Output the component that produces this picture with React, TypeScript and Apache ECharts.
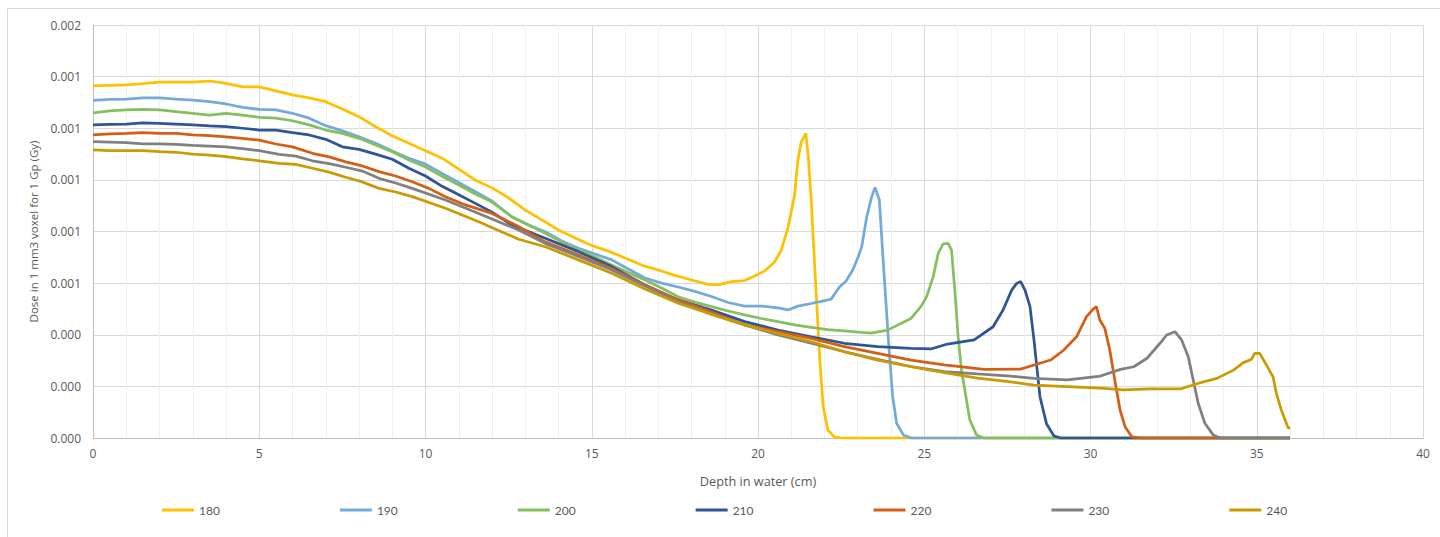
import React, { useEffect, useRef } from "react";
import * as echarts from "echarts";

// Depth (cm) and dose (Gy) samples per beam energy
const d180 = [0,0.5,1,1.5,2,2.5,3,3.5,4,4.5,5,5.5,6,6.5,7,7.5,8,8.5,9,9.5,10,10.5,11,11.5,12,12.5,13,13.5,14,14.5,15,15.5,16,16.5,17,17.5,18,18.5,18.8,19.2,19.6,19.9,20.2,20.5,20.7,20.9,21.1,21.2,21.3,21.44,21.52,21.6,21.76,21.86,21.96,22.1,22.3,22.5,36];
const v180 = [0.001364,0.001366,0.001368,0.001373,0.001379,0.001379,0.001379,0.001383,0.001374,0.00136,0.00136,0.001345,0.001329,0.001318,0.001303,0.001275,0.001245,0.001206,0.001171,0.001142,0.001113,0.001084,0.001042,0.000999,0.000969,0.00093,0.000883,0.000845,0.000806,0.000775,0.000746,0.000724,0.000697,0.00067,0.000651,0.00063,0.000612,0.000595,0.000593,0.000606,0.00061,0.000628,0.000647,0.000682,0.000728,0.000814,0.000941,0.001077,0.001147,0.00118,0.001077,0.000922,0.000535,0.000302,0.000121,0.000031,0.000004,0,0];

const d190 = [0,0.5,1,1.5,2,2.5,3,3.5,4,4.5,5,5.5,6,6.5,7,7.5,8,8.5,9,9.5,10,10.5,11,11.5,12,12.6,13.1,13.6,14.1,14.6,15.1,15.6,16.1,16.6,17.1,17.6,18.1,18.6,19.1,19.6,20.1,20.6,20.9,21.2,21.6,21.9,22.2,22.45,22.65,22.85,23.0,23.12,23.27,23.42,23.52,23.65,23.75,23.85,23.95,24.05,24.17,24.37,24.6,36];
const v190 = [0.001308,0.001312,0.001313,0.001318,0.001318,0.001313,0.001309,0.001303,0.001294,0.001281,0.001273,0.001271,0.001258,0.001239,0.00121,0.00119,0.001167,0.001142,0.001112,0.001084,0.001061,0.001025,0.00099,0.000954,0.000918,0.000856,0.000825,0.000799,0.000763,0.000735,0.000713,0.00069,0.000655,0.00062,0.0006,0.000585,0.000568,0.000548,0.000525,0.000511,0.000511,0.000504,0.000496,0.000511,0.000521,0.000529,0.000538,0.000585,0.000608,0.000651,0.000697,0.000741,0.000857,0.000935,0.000971,0.000922,0.000716,0.000522,0.000328,0.00016,0.000057,0.000012,0,0];

const d200 = [0,0.5,1,1.5,2,2.5,3,3.5,4,4.5,5,5.5,6,6.5,7,7.5,8,8.5,9,9.5,10,10.5,11,11.5,12,12.6,13.1,13.6,14.1,14.6,15.1,15.6,16.1,16.6,17.1,17.6,18.1,18.6,19.1,19.6,20.1,20.6,21.1,21.6,22.1,22.6,23.1,23.4,23.9,24.3,24.6,24.9,25.07,25.27,25.42,25.57,25.72,25.82,25.92,26.02,26.12,26.22,26.37,26.57,26.8,36];
const v200 = [0.00126,0.001267,0.001271,0.001273,0.001271,0.001264,0.001258,0.001251,0.001258,0.001251,0.001242,0.001239,0.001229,0.001213,0.001193,0.00118,0.001161,0.001135,0.001109,0.001077,0.00105,0.001014,0.00098,0.000945,0.000914,0.000857,0.000825,0.000793,0.000759,0.000728,0.000701,0.00067,0.000641,0.000612,0.000581,0.000547,0.000527,0.000509,0.000492,0.000477,0.000463,0.000451,0.000438,0.000429,0.00042,0.000415,0.000409,0.000406,0.000418,0.000444,0.000463,0.000509,0.000547,0.000625,0.000716,0.000752,0.000754,0.000728,0.000573,0.000392,0.000263,0.000186,0.00007,0.000012,0,0];

const d210 = [0,0.5,1,1.5,2,2.5,3,3.5,4,4.5,5,5.5,6,6.5,7,7.5,8,8.5,9,9.5,10,10.5,11,11.5,12,12.6,13.6,14.6,15.6,16.6,17.6,18.6,19.6,20.6,21.6,22.6,23.6,24.6,25.2,25.7,26.5,27.07,27.37,27.63,27.78,27.9,28.03,28.18,28.3,28.48,28.68,28.9,29.1,36];
const v210 = [0.001213,0.001215,0.001216,0.001221,0.001219,0.001216,0.001213,0.001209,0.001206,0.0012,0.001193,0.001193,0.001183,0.001174,0.001157,0.001128,0.001118,0.0011,0.00108,0.001045,0.001015,0.000975,0.000942,0.000909,0.000875,0.000825,0.000774,0.000722,0.000664,0.000593,0.000535,0.000496,0.000451,0.000418,0.000392,0.000367,0.000354,0.000347,0.000345,0.000364,0.00038,0.000431,0.000496,0.000573,0.000599,0.000606,0.000573,0.000509,0.00038,0.00016,0.000054,0.000008,0,0];

const d220 = [0,0.5,1,1.5,2,2.5,3,3.5,4,4.5,5,5.5,6,6.6,7.1,7.6,8.1,8.6,9.1,9.6,10.1,10.6,11.2,12.0,12.8,13.6,14.6,15.6,16.6,17.6,18.6,19.6,20.6,21.6,22.6,23.6,24.6,25.6,26.8,27.9,28.3,28.8,29.2,29.58,29.88,30.08,30.18,30.28,30.43,30.58,30.73,30.89,31.04,31.24,31.5,36];
const v220 = [0.001174,0.001178,0.00118,0.001183,0.00118,0.00118,0.001174,0.001171,0.001167,0.001161,0.001154,0.001139,0.001128,0.001103,0.001089,0.00107,0.001054,0.001032,0.001015,0.000993,0.000967,0.000935,0.000903,0.00087,0.000819,0.00076,0.000709,0.000657,0.000593,0.000535,0.000488,0.000438,0.000412,0.000386,0.000354,0.000328,0.000302,0.000283,0.000266,0.000267,0.000283,0.000302,0.000341,0.000392,0.00047,0.000499,0.000509,0.000457,0.000425,0.000341,0.000225,0.000108,0.000044,0.000005,0,0];

const d230 = [0,0.5,1,1.5,2,2.5,3,3.5,4,4.5,5,5.6,6.1,6.6,7.1,7.6,8.1,8.6,9.1,9.6,10.6,11.6,12.8,13.6,14.6,15.6,16.6,17.6,18.6,19.6,20.6,21.6,22.6,23.6,24.6,25.6,26.6,27.6,28.3,29.3,30.3,30.9,31.3,31.7,32.09,32.29,32.54,32.74,32.94,33.09,33.24,33.44,33.69,33.9,36];
const v230 = [0.001148,0.001146,0.001144,0.001139,0.001139,0.001138,0.001134,0.001131,0.001128,0.001121,0.001113,0.001099,0.001092,0.001074,0.001063,0.001049,0.001034,0.001006,0.000988,0.000967,0.000922,0.00087,0.000806,0.000754,0.000703,0.000651,0.000589,0.000528,0.00048,0.000438,0.000399,0.000367,0.000334,0.000305,0.000277,0.000257,0.000248,0.00024,0.000231,0.000225,0.00024,0.000266,0.000276,0.000309,0.000367,0.000399,0.000412,0.00038,0.000315,0.000225,0.000134,0.000057,0.000012,0,0];

const d240 = [0,0.5,1,1.5,2,2.5,3,3.5,4,4.5,5,5.6,6.1,6.6,7.1,7.6,8.1,8.6,9.1,9.6,10.6,11.6,12.8,13.6,14.6,15.6,16.6,17.6,18.6,19.6,20.6,21.6,22.6,23.6,24.6,25.6,26.6,27.6,28.3,29.3,30.3,31.0,31.8,32.7,33.3,33.8,34.3,34.6,34.84,34.94,35.09,35.29,35.49,35.59,35.74,35.94,36];
const v240 = [0.001116,0.001113,0.001113,0.001113,0.001109,0.001107,0.0011,0.001096,0.00109,0.001081,0.001074,0.001064,0.00106,0.001045,0.00103,0.00101,0.000992,0.000967,0.000953,0.000935,0.00089,0.000838,0.00077,0.000741,0.00069,0.000638,0.000577,0.000522,0.00048,0.000438,0.000405,0.000373,0.000334,0.000302,0.000276,0.000253,0.000232,0.000217,0.000205,0.000199,0.000193,0.000186,0.00019,0.00019,0.000214,0.000231,0.000263,0.000292,0.000305,0.000328,0.000328,0.000283,0.000237,0.000173,0.000108,0.000041,0.000037];

const seriesNames = ["180", "190", "200", "210", "220", "230", "240"];
const seriesDepths = [d180, d190, d200, d210, d220, d230, d240];
const seriesDoses = [v180, v190, v200, v210, v220, v230, v240];
const seriesColors = ["#FFC000", "#74AADB", "#86BF60", "#2F5597", "#D45F14", "#808080", "#C99B00"];

const xTitle = "Depth in water (cm)";
const yTitle = "Dose in 1 mm3 voxel for 1 Gp (Gy)";

export default function App() {
  const ref = useRef<HTMLDivElement>(null);
  useEffect(() => {
    if (!ref.current) return;
    const chart = echarts.init(ref.current, null, { renderer: "svg" });
    const font = "'Open Sans', sans-serif";
    chart.setOption({
      animation: false,
      backgroundColor: "#ffffff",
      graphic: [
        {
          type: "rect",
          shape: { x: 7.5, y: 8.5, width: 1460, height: 560 },
          style: { fill: "none", stroke: "#d9d9d9", lineWidth: 1 },
          silent: true,
        },
      ],
      grid: { left: 93, right: 17, top: 25, bottom: 99, containLabel: false, outerBoundsMode: "none" },
      legend: {
        left: 162,
        top: 504,
        padding: 0,
        icon: "rect",
        itemWidth: 32,
        itemHeight: 3,
        itemGap: 120,
        textStyle: { color: "#595959", fontSize: 12, fontFamily: "Lato, sans-serif" },
        data: seriesNames,
      },
      xAxis: {
        type: "value",
        min: 0,
        max: 40,
        interval: 5,
        name: xTitle,
        nameLocation: "middle",
        nameGap: 36,
        nameTextStyle: { color: "#595959", fontSize: 12.7, fontFamily: font },
        axisLine: { show: true, lineStyle: { color: "#bfbfbf", width: 1 } },
        axisTick: { show: false },
        axisLabel: { color: "#595959", fontSize: 12, fontFamily: font, margin: 9 },
        splitLine: { show: true, lineStyle: { color: "#d9d9d9", width: 1 } },
        minorTick: { show: false, splitNumber: 5 },
        minorSplitLine: { show: true, lineStyle: { color: "#f0f0f0", width: 1 } },
      },
      yAxis: {
        type: "value",
        min: 0,
        max: 0.0016,
        interval: 0.0002,
        name: yTitle,
        nameLocation: "middle",
        nameGap: 51,
        nameRotate: 90,
        nameTextStyle: { color: "#595959", fontSize: 11.5, fontFamily: font },
        axisLine: { show: true, lineStyle: { color: "#bfbfbf", width: 1 } },
        axisTick: { show: false },
        axisLabel: {
          color: "#595959",
          fontSize: 12,
          fontFamily: font,
          margin: 12,
          formatter: (v: number) => v.toFixed(3),
        },
        splitLine: { show: true, lineStyle: { color: "#d9d9d9", width: 1 } },
      },
      series: seriesNames.map((name, i) => ({
        name,
        type: "line",
        showSymbol: false,
        symbol: "none",
        color: seriesColors[i],
        lineStyle: { color: seriesColors[i], width: 2.75 },
        data: seriesDepths[i].map((d, j) => [d, seriesDoses[i][j]]),
      })),
    });
    return () => chart.dispose();
  }, []);
  return (
    <div
      ref={ref}
      style={{ position: "absolute", left: 0, top: 0, width: 1440, height: 537, background: "#fff" }}
    />
  );
}
